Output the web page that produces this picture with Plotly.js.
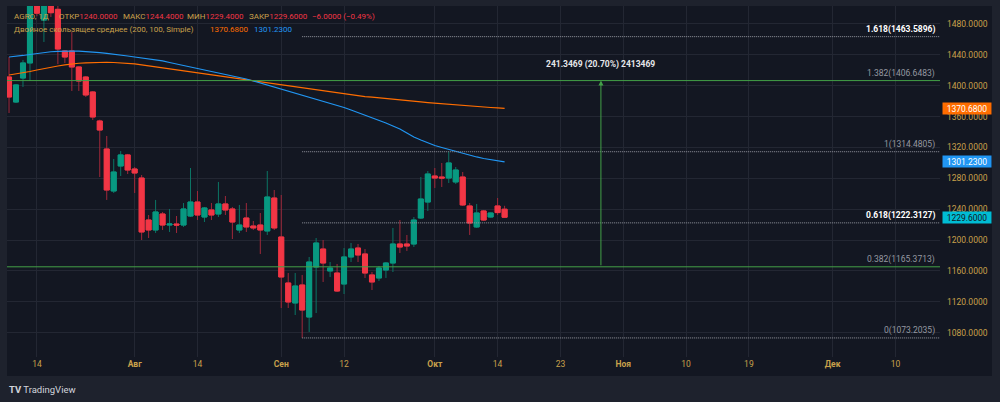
<!DOCTYPE html>
<html><head><meta charset="utf-8">
<script src="https://cdn.plot.ly/plotly-3.0.1.min.js"></script>
<style>html,body{margin:0;padding:0;background:#1e222d;}#chart{width:1000px;height:402px;}</style>
</head><body><div id="chart"></div>
<script>
// ---- data (daily candles, AGRO) ----
const openP = [1411.3,1378.9,1410.0,1429.5,1515,1485,1511,1499,1445.0,1445.0,
  1424.3,1411.3,1391.9,1354.3,1318.0,1263.6,1296.0,1310.3,1292.1,1280.4,
  1226.0,1213.1,1233.8,1219.5,1220.8,1219.5,1231.2,1249.3,1229.9,1239.0,
  1233.8,1246.8,1240.3,1213.1,1228.6,1218.2,1219.5,1211.8,1254.5,1204.0,
  1144.4,1118.5,1141.8,1100.3,1165.1,1188.4,1160.0,1157.3,1143.1,1178.1,
  1189.7,1182.0,1154.8,1150.9,1161.2,1170.3,1194.9,1194.9,1194.9,1228.6,
  1249.3,1283.0,1281.7,1280.4,1275.3,1281.7,1244.2,1217.0,1237.7,1229.9,
  1244.2,1240.0];
const highP = [1437.2,1402.3,1433.4,1522,1524,1528,1520,1506,1446.3,1469.6,
  1425.0,1412.5,1393.2,1356.0,1334.9,1305.1,1315.4,1311.6,1294.7,1284.3,
  1232.5,1252.0,1236.4,1240.3,1231.2,1248.0,1293.4,1263.6,1242.9,1248.0,
  1275.3,1257.1,1242.9,1245.5,1248.0,1224.7,1235.1,1289.5,1264.9,1258.4,
  1157.3,1157.3,1154.8,1178.1,1202.7,1200.1,1171.6,1169.0,1189.7,1196.2,
  1194.9,1188.4,1158.6,1166.4,1171.6,1215.7,1226.0,1206.6,1229.9,1281.7,
  1289.5,1293.4,1299.9,1314.4805,1294.7,1288.2,1248.0,1246.8,1239.0,1235.7,
  1254.5,1244.4];
const lowP = [1364.7,1377.6,1398.4,1406.1,1490,1456.7,1489,1428.0,1429.5,1393.2,
  1393.2,1385.4,1355.6,1281.7,1252.0,1261.0,1283.0,1285.6,1261.0,1200.1,
  1202.7,1209.2,1213.1,1210.5,1209.2,1217.0,1229.9,1226.0,1223.4,1226.0,
  1229.9,1232.5,1201.4,1209.2,1210.5,1213.1,1182.0,1206.6,1213.1,1112.0,
  1112.0,1102.9,1073.2035,1080.9,1105.5,1145.7,1152.2,1132.7,1130.1,1171.6,
  1171.6,1150.9,1135.3,1147.0,1150.9,1158.6,1183.3,1185.9,1191.0,1227.3,
  1237.7,1267.5,1268.8,1274.0,1272.7,1244.2,1206.6,1215.7,1224.7,1229.3,
  1232.5,1229.4];
const closeP = [1385.4,1401.0,1429.5,1508,1494,1513,1494.6,1447.6,1437.2,1424.3,
  1406.1,1388.0,1359.5,1342.6,1264.9,1288.2,1310.3,1290.8,1286.9,1210.5,
  1213.1,1236.4,1219.5,1220.8,1219.5,1240.3,1249.3,1232.5,1241.6,1232.5,
  1246.8,1239.0,1223.4,1219.5,1217.0,1215.7,1213.1,1255.8,1215.7,1152.2,
  1119.8,1140.5,1109.4,1171.6,1196.2,1170.3,1163.8,1134.0,1178.1,1188.4,
  1180.7,1157.3,1145.7,1163.8,1170.3,1194.9,1191.0,1192.3,1226.0,1253.2,
  1285.6,1280.4,1280.4,1299.9,1290.8,1245.5,1222.1,1235.1,1226.0,1235.1,
  1235.6,1229.6];
const sma100 = [1437.2,1437.9,1439.2,1440.5,1441.8,1443.1,1444.0,1444.6,1445.0,1445.0,
  1444.8,1444.4,1443.7,1442.8,1442.0,1441.1,1439.8,1438.5,1437.2,1435.9,
  1435.3,1434.0,1432.1,1430.1,1428.2,1426.2,1424.3,1423.0,1421.0,1419.1,
  1417.2,1415.2,1413.3,1411.3,1408.7,1406.1,1403.5,1400.9,1398.4,1395.8,
  1393.2,1390.6,1388.0,1385.4,1382.8,1380.2,1377.6,1375.0,1371.8,1368.6,
  1365.3,1362.1,1358.8,1355.6,1351.7,1347.8,1343.9,1338.8,1333.6,1329.7,
  1325.8,1322.6,1320.0,1317.4,1314.8,1312.2,1309.6,1307.7,1305.7,1304.0,
  1302.5,1301.23];
const sma200 = [1413.9,1415.2,1416.5,1418.4,1420.4,1422.3,1424.3,1425.6,1426.9,1428.2,
  1429.1,1429.7,1430.1,1430.4,1430.4,1430.1,1429.7,1429.1,1428.2,1426.9,
  1425.6,1424.3,1423.0,1421.7,1420.4,1419.1,1417.8,1416.5,1415.2,1413.9,
  1412.6,1411.3,1410.0,1408.7,1407.4,1406.1,1404.8,1403.5,1402.3,1401.0,
  1399.7,1398.4,1397.1,1395.8,1394.5,1393.2,1392.0,1390.6,1389.3,1388.0,
  1387.0,1386.0,1385.1,1384.1,1383.2,1382.4,1381.5,1380.6,1379.8,1379.0,
  1378.2,1377.4,1376.6,1375.8,1375.0,1374.4,1373.7,1373.1,1372.5,1371.8,
  1371.2,1370.68];
const timeTickBars = [4,18,27,39,48,61,70,79,88,97,106,118,127];
const timeTickText = ['14','Авг','14','Сен','12','Окт','14','23','Ноя','10','19','Дек','10'];
const priceTicks = [1080,1120,1160,1200,1240,1280,1320,1360,1400,1440,1480];
const fibRatios = ['1.618','1.382','1','0.618','0.382','0'];
const fibPrices = [1463.5896,1406.6483,1314.4805,1222.3127,1165.3713,1073.2035];
const fibStartBar = 42;
const measureBar = 84.8;
const measureFrom = 1165.3713, measureTo = 1406.6483;
const measureText = '241.3469 (20.70%) 2413469';
const lastClose = 1229.6;
const changeText = '−6.0000 (−0.49%)';

// ---- styles ----
const GOLD = '#c9a14b', RED = '#f23645', GREEN = '#089981';
const ORANGE = '#ff6d00', BLUE = '#2196f3', CYAN = '#00bcd4';
const FONT = 'Roboto, "Liberation Sans", sans-serif';
const xs = openP.map((_, i) => i);
const xMax = 133.38;
const L = 7, PW = 933;            // plot left px, plot width px
const px = v => (v - L) / PW;     // pixel -> paper x

const wicks = {
  type: 'candlestick', x: xs, open: openP, high: highP, low: lowP, close: closeP,
  increasing: {line: {color: '#0b7565', width: 1}, fillcolor: GREEN},
  decreasing: {line: {color: '#a0283a', width: 1}, fillcolor: RED},
  whiskerwidth: 0, hoverinfo: 'skip', showlegend: false
};
const bodies = {
  type: 'candlestick', x: xs, open: openP, close: closeP,
  high: openP.map((o, i) => Math.max(o, closeP[i])),
  low: openP.map((o, i) => Math.min(o, closeP[i])),
  increasing: {line: {color: GREEN, width: 1}, fillcolor: GREEN},
  decreasing: {line: {color: RED, width: 1}, fillcolor: RED},
  whiskerwidth: 0, hoverinfo: 'skip', showlegend: false
};
const ma200 = {type: 'scatter', mode: 'lines', x: xs, y: sma200, line: {color: ORANGE, width: 1.2}, hoverinfo: 'skip'};
const ma100 = {type: 'scatter', mode: 'lines', x: xs, y: sma100, line: {color: BLUE, width: 1.2}, hoverinfo: 'skip'};

const shapes = [
  {type: 'rect', xref: 'paper', yref: 'paper', x0: 0, x1: px(992), y0: -0.0541, y1: 1,
   fillcolor: '#131722', line: {width: 0}, layer: 'below'}
];
const annotations = [];
fibPrices.forEach((p, k) => {
  const green = (fibRatios[k] === '0.382' || fibRatios[k] === '1.382');
  if (green) {
    shapes.push({type: 'line', xref: 'paper', yref: 'y', x0: 0, x1: 1, y0: p, y1: p,
      line: {color: '#43a047', width: 1}});
  } else {
    shapes.push({type: 'line', xref: 'x', yref: 'y', x0: fibStartBar, x1: xMax, y0: p, y1: p,
      line: {color: '#9598a1', width: 1, dash: '1px,1px'}});
  }
  const bright = (fibRatios[k] === '1.618' || fibRatios[k] === '0.618');
  const t = fibRatios[k] + '(' + p.toFixed(4) + ')';
  annotations.push({xref: 'paper', yref: 'y', x: px(937), y: p, xanchor: 'right', yanchor: 'bottom',
    showarrow: false, text: bright ? '<b>' + t + '</b>' : t,
    font: {family: FONT, size: 8.5, color: bright ? '#ffffff' : '#9598a1'}});
});
// measure arrow
annotations.push({xref: 'x', yref: 'y', axref: 'x', ayref: 'y', x: measureBar, y: measureTo,
  ax: measureBar, ay: measureFrom, text: '', showarrow: true, arrowhead: 2, arrowsize: 1,
  arrowwidth: 1, arrowcolor: '#43a047'});
annotations.push({xref: 'x', yref: 'y', x: measureBar, y: 1428, xanchor: 'center', yanchor: 'middle',
  showarrow: false, text: '<b>' + measureText + '</b>', font: {family: FONT, size: 8.5, color: '#e6e7ea'}});

// legend pieces
function leg(xPix, yPaper, html) {
  annotations.push({xref: 'paper', yref: 'paper', x: px(xPix), y: yPaper, xanchor: 'left', yanchor: 'middle',
    showarrow: false, font: {family: FONT, size: 8, color: GOLD}, text: html});
}
const red = v => '<span style="color:' + RED + '">' + v + '</span>';
const Y1 = 0.9715, Y2 = 0.934;
leg(12, Y1, 'AGRO, 1Д');
leg(57, Y1, 'ОТКР' + red(openP[71].toFixed(4)));
leg(121, Y1, 'МАКС' + red(highP[71].toFixed(4)));
leg(185, Y1, 'МИН' + red(lowP[71].toFixed(4)));
leg(247, Y1, 'ЗАКР' + red(closeP[71].toFixed(4)));
leg(310, Y1, red(changeText));
leg(12, Y2, 'Двойное скользящее среднее (200, 100, Simple)');
leg(208, Y2, '<span style="color:' + ORANGE + '">' + sma200[71].toFixed(4) + '</span>');
leg(252, Y2, '<span style="color:' + BLUE + '">' + sma100[71].toFixed(4) + '</span>');

// price axis boxes
[[sma200[71], ORANGE, '#ffffff'], [sma100[71], BLUE, '#ffffff'], [lastClose, CYAN, '#131722']].forEach(b => {
  annotations.push({xref: 'paper', yref: 'y', x: px(942), y: b[0], xanchor: 'left', yanchor: 'middle', showarrow: false,
    text: b[0].toFixed(4), bgcolor: b[1], width: 47, height: 10, borderpad: 0.5,
    font: {family: FONT, size: 8.5, color: b[2]}});
});
// TradingView logo
annotations.push({xref: 'paper', yref: 'paper', x: 0, y: -0.094, xanchor: 'left', yanchor: 'middle', showarrow: false,
  text: '<b>TV</b> TradingView', font: {family: FONT, size: 9.5, color: '#d1d4dc'}});

const monthLabels = ['Авг', 'Сен', 'Окт', 'Ноя', 'Дек'];
const layout = {
  width: 1000, height: 402,
  paper_bgcolor: '#1e222d', plot_bgcolor: '#131722',
  margin: {l: 7, r: 60, t: 6, b: 45},
  showlegend: false, boxgap: 0.28, boxgroupgap: 0,
  xaxis: {range: [-0.29, xMax], tickvals: timeTickBars,
    ticktext: timeTickText.map(t => monthLabels.includes(t) ? '<b>' + t + '</b>' : t), showgrid: true,
    gridcolor: '#232733', zeroline: false, showline: false, ticks: '',
    tickfont: {family: FONT, size: 8.5, color: GOLD}, rangeslider: {visible: false}, fixedrange: true},
  yaxis: {side: 'right', range: [1048.5, 1503.3], tickvals: priceTicks, tickformat: '.4f', showgrid: true,
    gridcolor: '#232733', zeroline: false, showline: false, ticks: '', ticklabelstandoff: 6,
    tickfont: {family: FONT, size: 8.5, color: GOLD}, fixedrange: true},
  shapes: shapes, annotations: annotations
};
Plotly.newPlot('chart', [wicks, bodies, ma200, ma100], layout, {displayModeBar: false, staticPlot: true});
</script></body></html>
